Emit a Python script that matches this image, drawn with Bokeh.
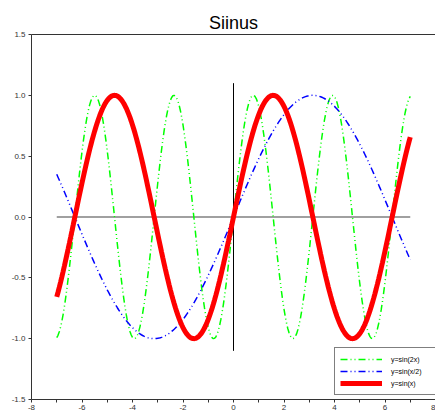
import numpy as np
from bokeh.plotting import figure
from bokeh.models import (Range1d, LinearAxis, FixedTicker, Legend, LegendItem)
from bokeh.embed import file_html
from bokeh.resources import INLINE

# Sampling grid and the three plotted functions
x = np.linspace(-7, 7, 281)
y_sin2x = np.sin(2 * x)
y_sinhalf = np.sin(x / 2)
y_sinx = np.sin(x)

legend_labels = ["y=sin(2x)", "y=sin(x/2)", "y=sin(x)"]
x_ticks = [-8, -6, -4, -2, 0, 2, 4, 6, 8]
x_minor = [-7, -5, -3, -1, 1, 3, 5, 7]
y_ticks = [-1.5, -1.0, -0.5, 0.0, 0.5, 1.0, 1.5]

FONT = "Liberation Sans"

p = figure(width=435, height=417, output_backend="svg", toolbar_location=None,
           x_range=Range1d(-8, 8), y_range=Range1d(-1.5, 1.5),
           min_border_left=31, min_border_right=0, min_border_top=34,
           min_border_bottom=18, x_axis_location=None, y_axis_location=None)

p.title.text = "Siinus"
p.title.align = "center"
p.title.text_font = FONT
p.title.text_font_size = "18px"
p.title.text_font_style = "normal"
p.title.text_color = "#000000"
p.title.offset = 0
p.title.standoff = 4

p.grid.visible = False
p.outline_line_color = None
p.background_fill_color = "white"
p.border_fill_color = "white"

axis_color = "#333333"

xaxis = LinearAxis(ticker=FixedTicker(ticks=x_ticks, minor_ticks=x_minor))
xaxis.axis_line_color = axis_color
xaxis.major_tick_line_color = axis_color
xaxis.minor_tick_line_color = axis_color
xaxis.major_tick_in = 0
xaxis.major_tick_out = 3
xaxis.minor_tick_in = 0
xaxis.minor_tick_out = 3
xaxis.major_label_text_font = FONT
xaxis.major_label_text_font_size = "8px"
xaxis.major_label_text_color = "#333333"
xaxis.major_label_standoff = 2
xaxis.major_label_overrides = {t: str(t) for t in x_ticks}
p.add_layout(xaxis, "below")

yaxis = LinearAxis(ticker=FixedTicker(ticks=y_ticks))
yaxis.axis_line_color = axis_color
yaxis.major_tick_line_color = axis_color
yaxis.minor_tick_line_color = None
yaxis.major_tick_in = 0
yaxis.major_tick_out = 3
yaxis.major_label_text_font = FONT
yaxis.major_label_text_font_size = "8px"
yaxis.major_label_text_color = "#333333"
yaxis.major_label_standoff = 3
yaxis.major_label_overrides = {t: f"{t:.1f}" for t in y_ticks}
p.add_layout(yaxis, "left")

# Top border of the frame
top = LinearAxis(ticker=FixedTicker(ticks=[]))
top.axis_line_color = axis_color
top.major_label_text_font_size = "0px"
top.major_tick_line_color = None
top.minor_tick_line_color = None
p.add_layout(top, "above")

# Coordinate cross through the origin
p.line([-7, 7], [0, 0], line_color="#808080", line_width=1.5)
p.line([0, 0], [-1.1, 1.1], line_color="#000000", line_width=1)

r1 = p.line(x, y_sin2x, line_color="#00ff00", line_width=1.5, line_dash="7 3 1 3 1 3")
r2 = p.line(x, y_sinhalf, line_color="#0000ff", line_width=1.5, line_dash="7 3 1 3 1 3")
r3 = p.line(x, y_sinx, line_color="#ff0000", line_width=5)

legend = Legend(items=[LegendItem(label=legend_labels[0], renderers=[r1]),
                       LegendItem(label=legend_labels[1], renderers=[r2]),
                       LegendItem(label=legend_labels[2], renderers=[r3])],
                location=(303, 4), margin=0, padding=5, spacing=0,
                glyph_width=42, glyph_height=12, label_height=12,
                label_width=44, label_standoff=9, label_text_font=FONT,
                label_text_font_size="7px", label_text_color="#000000",
                border_line_color="#000000", border_line_width=1,
                background_fill_color="white", background_fill_alpha=1)
p.add_layout(legend, "center")

open("out.html", "w").write(file_html(p, INLINE))
